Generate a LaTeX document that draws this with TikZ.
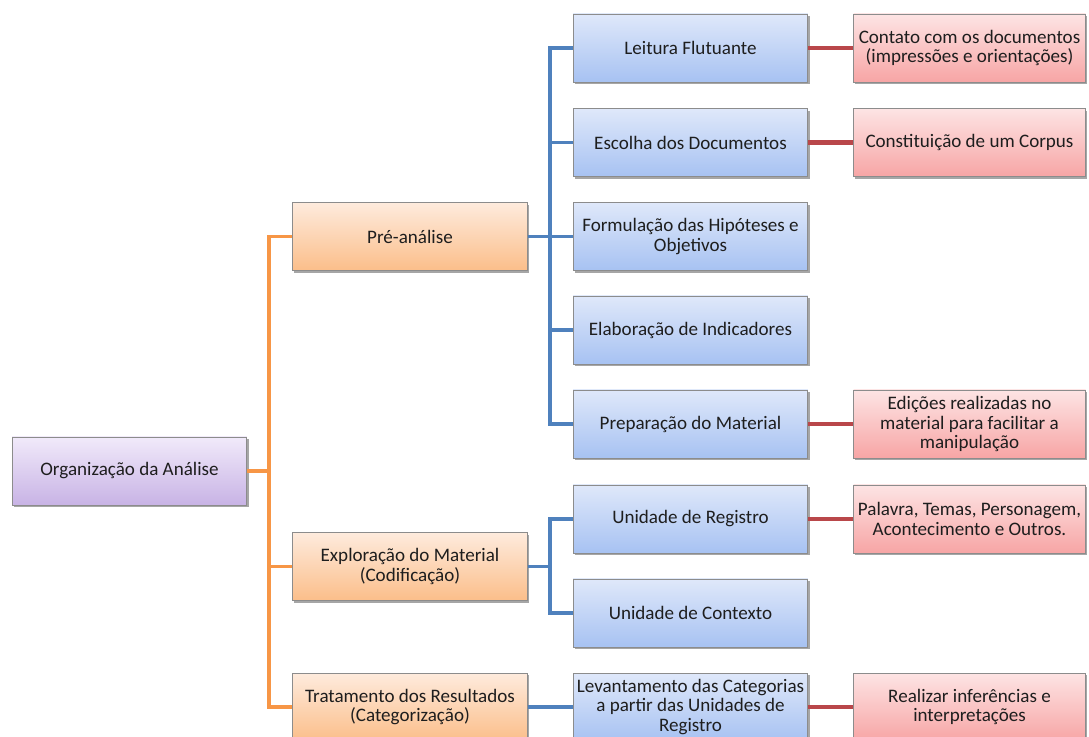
\documentclass[tikz,border=0pt]{standalone}
\usepackage{fontspec}
\setmainfont{Carlito}
\usetikzlibrary{shadows}

\definecolor{purpletop}{HTML}{F1EAFA}
\definecolor{purplebot}{HTML}{C8B3E5}
\definecolor{orangetop}{HTML}{FEEBDD}
\definecolor{orangebot}{HTML}{FBBE8A}
\definecolor{bluetop}{HTML}{DFE8FA}
\definecolor{bluebot}{HTML}{A7C2F2}
\definecolor{redtop}{HTML}{FDE4E4}
\definecolor{redbot}{HTML}{F7A5A5}
\definecolor{boxgray}{HTML}{8C8C8C}
\definecolor{textgray}{HTML}{1E1E1E}
\definecolor{orangeln}{HTML}{F79646}
\definecolor{blueln}{HTML}{4F81BD}
\definecolor{redln}{HTML}{B9474A}

\tikzset{
  box/.style={draw=boxgray, line width=0.6pt, minimum width=176pt,
    minimum height=51pt, inner xsep=1pt, align=center, text=textgray,
    font=\fontsize{14.3}{14.6}\selectfont,
    drop shadow={shadow xshift=1.3pt, shadow yshift=-1.6pt, opacity=0.35, fill=black}},
  rootbox/.style={box, top color=purpletop, bottom color=purplebot},
  orangebox/.style={box, top color=orangetop, bottom color=orangebot},
  bluebox/.style={box, top color=bluetop, bottom color=bluebot},
  redbox/.style={box, minimum width=174pt, top color=redtop, bottom color=redbot},
  orangeline/.style={orangeln, line width=2.4pt},
  blueline/.style={blueln, line width=2.8pt},
  redline/.style={redln, line width=3.4pt}
}

\begin{document}
\begin{tikzpicture}[x=0.75pt,y=-0.75pt]
    \useasboundingbox (0,0) rectangle (1089,737);
    \clip (0,0) rectangle (1089,737);

    % root and first level
    \node[rootbox] (org) at (129.5,471) {Organização da Análise};
    \node[orangebox] (pre) at (410,236.5) {Pré-análise};
    \node[orangebox] (expl) at (410,566.5) {Exploração do Material\\(Codificação)};
    \node[orangebox] (trat) at (410,707) {Tratamento dos Resultados\\(Categorização)};

    % second level
    \node[bluebox] (leit) at (690.5,48) {Leitura Flutuante};
    \node[bluebox] (escol) at (690.5,142.5) {Escolha dos Documentos};
    \node[bluebox] (formul) at (690.5,236.5) {Formulação das Hipóteses e\\Objetivos};
    \node[bluebox] (elab) at (690.5,330) {Elaboração de Indicadores};
    \node[bluebox] (prep) at (690.5,424) {Preparação do Material};
    \node[bluebox] (ureg) at (690.5,519) {Unidade de Registro};
    \node[bluebox] (ucont) at (690.5,613) {Unidade de Contexto};
    \node[bluebox] (levant) at (690.5,707) {Levantamento das Categorias\\a partir das Unidades de\\Registro};

    % third level
    \node[redbox] (contato) at (969.5,48) {Contato com os documentos\\(impressões e orientações)};
    \node[redbox] (corpus) at (969.5,142.5) {Constituição de um Corpus};
    \node[redbox] (edic) at (969.5,424) {Edições realizadas no\\material para facilitar a\\manipulação};
    \node[redbox] (palavra) at (969.5,519) {Palavra, Temas, Personagem,\\Acontecimento e Outros.};
    \node[redbox] (realiz) at (969.5,707) {Realizar inferências e\\interpretações};

    \coordinate (ospine) at (269,471);
    \coordinate (bspine) at (550,0);

    % orange connectors
    \draw[orangeline] (org.east) -- (org.east -| ospine);
    \draw[orangeline] (pre.west) -- (pre.west -| ospine) |- (trat.west);
    \draw[orangeline] (expl.west) -- (expl.west -| ospine);

    % blue connectors
    \draw[blueline] (leit.west) -- (leit.west -| bspine) |- (prep.west);
    \foreach \n in {escol, formul, elab}
        \draw[blueline] (\n.west) -- (\n.west -| bspine);
    \draw[blueline] (pre.east) -- (pre.east -| bspine);
    \draw[blueline] (ureg.west) -- (ureg.west -| bspine) |- (ucont.west);
    \draw[blueline] (expl.east) -- (expl.east -| bspine);
    \draw[blueline] (trat.east) -- (levant.west);

    % red connectors
    \foreach \a/\b in {leit/contato, escol/corpus, prep/edic, ureg/palavra, levant/realiz}
        \draw[redline] (\a.east) -- (\b.west);
\end{tikzpicture}
\end{document}
